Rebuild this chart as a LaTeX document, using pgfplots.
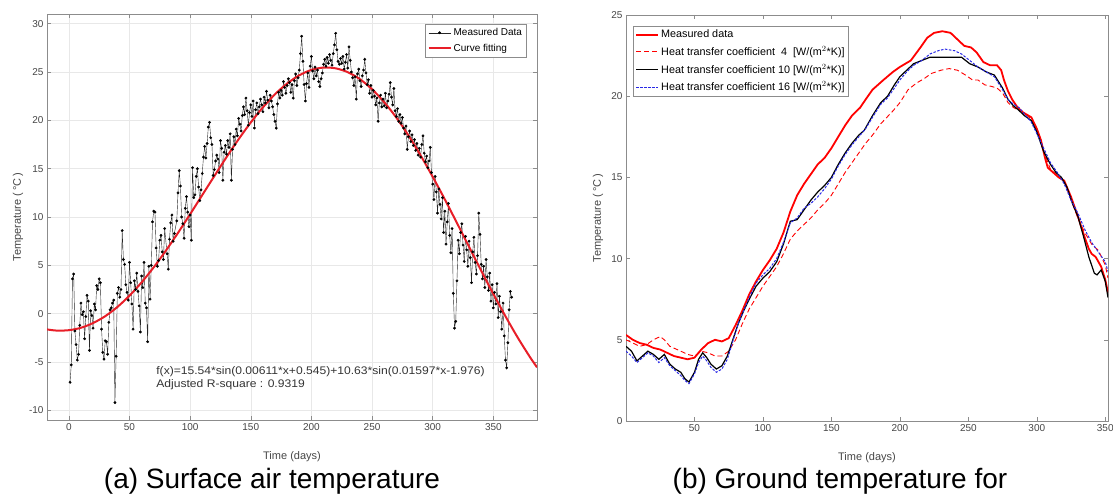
\documentclass[border=0pt]{standalone}
\usepackage{fontspec}
\setmainfont{Liberation Sans}
\newfontfamily\widefont{Liberation Sans}[FakeStretch=1.1]
\usepackage{pgfplots}
\pgfplotsset{compat=1.18}
\definecolor{mred}{RGB}{232,30,40}
\definecolor{axgray}{RGB}{140,140,140}
\definecolor{txtgray}{RGB}{70,70,70}
\definecolor{mblue}{RGB}{40,40,230}
\pgfplotsset{
  mlab/.style={
    scale only axis,
    axis line style={axgray, line width=0.6pt},
    tick style={axgray, line width=0.5pt},
    major tick length=4pt,
    tick align=inside,
    ticklabel style={font=\fontsize{10}{12}\selectfont, text=txtgray},
    /pgf/number format/assume math mode=true,
    label style={font=\fontsize{11}{13}\selectfont, text=txtgray},
    legend style={font=\fontsize{10}{12}\selectfont, draw=axgray, fill=white,
                  inner xsep=2pt, inner ysep=2pt, row sep=3pt},
    legend cell align=left,
    legend image code/.code={\draw[mark repeat=2,mark phase=2,##1]
      plot coordinates {(0pt,0pt) (11pt,0pt) (22pt,0pt)};},
  },
}
\begin{document}
\begin{tikzpicture}
\path[use as bounding box] (0,0) rectangle (1113pt,499pt);

% ---------------- (a) surface air temperature ----------------
\begin{axis}[
  mlab,
  at={(47pt,79pt)}, anchor=south west,
  width=490pt, height=406pt,
  xmin=-18, xmax=386, ymin=-11, ymax=31,
  xtick={0,50,...,350}, ytick={-10,-5,...,30},
  grid=major, grid style={gray!18, line width=0.5pt},
  xlabel={Time (days)}, ylabel={Temperature (\,°C\,)},
  xlabel style={at={(axis description cs:0.5,-0.068)}, anchor=north},
  ylabel style={at={(axis description cs:-0.059,0.5)}, anchor=center},
  legend style={at={(axis description cs:0.978,0.975)}, anchor=north east},
]
\addplot[black!85, line width=0.4pt, mark=*, mark size=1.2pt,
         mark options={fill=black, draw=black}] coordinates {
(1,-7.1) (2,-5.3) (3,3.6) (4,4.1) (5,-1.8) (6,-3.2) (7,-4.8) (8,-4.2) (9,-1.2) (10,1.1)
(11,-0.1) (12,0.2) (13,-2.6) (14,-0.3) (15,1.9) (16,1.3) (17,-3.8) (18,0.3) (19,-0.2) (20,-1.5)
(21,1.0) (22,0.4) (23,2.9) (24,2.5) (25,3.6) (26,3.2) (27,-1.6) (28,-4.0) (29,-4.7) (30,-2.8)
(31,-2.9) (32,-4.2) (33,-0.9) (34,0.4) (35,0.6) (36,1.1) (37,1.4) (38,-9.2) (39,-4.4) (40,2.1)
(41,2.7) (42,1.7) (43,2.5) (44,8.6) (45,5.6) (46,5.1) (47,3.0) (48,2.2) (49,1.4) (50,5.3)
(51,3.2) (52,1.0) (53,-1.6) (54,3.4) (55,2.5) (56,4.2) (57,2.3) (58,0.8) (59,-1.9) (60,3.9)
(61,2.7) (62,5.3) (63,1.1) (64,0.6) (65,-2.9) (66,4.9) (67,1.5) (68,5.0) (69,9.5) (70,10.6)
(71,10.5) (72,6.8) (73,4.9) (74,5.5) (75,7.6) (76,8.1) (77,6.4) (78,5.6) (79,8.8) (81,6.2)
(82,4.6) (83,7.7) (84,9.4) (85,10.2) (86,7.5) (87,8.3) (89,9.6) (90,12.5) (91,14.8) (92,13.2)
(93,10.0) (94,9.3) (95,7.8) (96,10.9) (97,12.1) (98,10.5) (99,9.0) (100,10.2) (101,7.6) (102,15.1)
(103,12.0) (104,12.3) (105,14.2) (106,15.0) (107,13.1) (108,11.7) (109,12.8) (110,14.5) (111,16.2) (112,17.3)
(113,16.1) (114,17.6) (115,19.3) (116,19.8) (117,18.2) (118,17.5) (119,14.3) (120,14.9) (121,15.8) (122,16.4)
(123,16.0) (124,14.6) (125,17.9) (126,17.1) (127,13.8) (128,16.7) (129,17.4) (130,16.5) (131,17.9) (132,17.2)
(133,18.6) (134,13.8) (135,17.0) (136,18.3) (137,17.5) (138,19.1) (139,18.4) (140,20.2) (141,19.6) (142,18.9)
(143,20.5) (144,21.4) (145,20.6) (146,22.3) (147,21.0) (148,19.5) (149,20.8) (150,21.6) (151,20.4) (152,22.0)
(153,19.2) (154,21.1) (155,21.8) (156,20.7) (157,21.4) (158,22.2) (159,21.6) (160,20.9) (161,22.4) (162,21.8)
(163,23.0) (164,22.1) (165,21.3) (166,22.6) (167,22.0) (168,21.4) (169,20.6) (170,19.9) (171,19.2) (172,21.7)
(173,22.9) (174,22.3) (175,23.1) (176,22.6) (177,24.0) (178,23.4) (179,22.8) (180,23.6) (181,24.3) (182,23.9)
(183,22.9) (184,23.7) (185,22.3) (186,24.1) (187,24.8) (188,23.6) (189,24.4) (190,25.2) (191,26.9) (192,28.7)
(193,26.1) (194,23.7) (195,22.0) (196,23.8) (197,24.9) (198,23.4) (199,25.6) (200,26.6) (201,25.1) (202,24.3)
(203,25.5) (204,24.6) (205,25.2) (206,24.0) (207,23.5) (208,24.3) (209,24.9) (210,25.8) (211,26.3) (212,25.6)
(213,26.5) (214,25.9) (215,26.8) (216,26.2) (217,25.7) (218,26.9) (219,27.8) (220,29.0) (221,27.3) (222,26.1)
(223,25.8) (224,26.4) (225,25.9) (226,26.6) (227,25.3) (228,26.0) (229,26.8) (230,25.4) (231,27.6) (232,26.2)
(233,25.0) (234,24.4) (235,23.6) (236,24.5) (237,22.2) (238,24.8) (239,25.3) (240,24.1) (241,23.5) (242,24.6)
(243,25.2) (244,26.3) (245,24.9) (246,23.7) (247,24.2) (248,22.8) (249,23.6) (250,22.4) (251,23.1) (252,22.5)
(253,21.6) (254,22.3) (255,19.9) (256,21.8) (257,22.6) (258,21.4) (259,22.2) (260,21.5) (261,22.8) (262,21.3)
(263,22.0) (264,22.7) (265,23.9) (266,22.4) (267,21.6) (268,23.3) (269,21.0) (270,20.4) (271,21.2) (272,19.9)
(273,20.6) (274,19.7) (275,20.3) (276,19.2) (277,18.6) (278,19.4) (279,17.0) (280,18.3) (281,18.9) (282,17.8)
(283,18.5) (284,17.4) (285,18.0) (286,16.9) (287,17.6) (288,16.4) (289,17.1) (290,16.2) (291,17.5) (292,18.4)
(293,16.6) (294,15.7) (295,16.3) (296,15.1) (297,15.8) (298,17.2) (299,14.6) (300,13.4) (301,11.8) (302,14.2)
(303,12.6) (304,10.4) (305,12.9) (306,11.3) (307,9.8) (308,12.0) (309,8.4) (310,10.6) (311,7.2) (312,9.5)
(313,11.4) (314,8.1) (315,6.3) (316,8.8) (317,2.1) (318,-1.5) (319,-0.8) (320,3.4) (321,7.6) (322,6.2)
(323,8.4) (324,9.3) (325,7.1) (326,5.4) (327,8.0) (328,6.6) (329,4.9) (330,7.5) (331,5.8) (332,3.2)
(333,6.4) (334,7.9) (335,5.3) (336,4.1) (337,6.0) (338,10.4) (339,8.2) (340,5.1) (341,3.6) (342,4.9)
(343,2.7) (344,5.6) (345,3.8) (346,2.4) (347,4.2) (348,1.3) (349,3.0) (350,0.6) (351,2.2) (352,1.0)
(353,3.1) (354,-0.4) (355,1.8) (356,0.2) (357,-1.6) (358,1.1) (359,-2.3) (360,-4.8) (361,-5.6) (362,-3.0)
(363,0.4) (364,2.3) (365,1.7)
};
\addlegendentry{Measured Data}
\addplot[mred, line width=2pt, smooth] coordinates {
(-18,-1.63) (-10,-1.75) (0,-1.71) (10,-1.46) (20,-0.97) (30,-0.26) (40,0.69)
(50,1.86) (60,3.24) (70,4.80) (80,6.52) (90,8.36) (100,10.29) (110,12.27)
(120,14.24) (130,16.19) (140,18.05) (150,19.78) (160,21.34) (170,22.70)
(180,23.81) (190,24.66) (200,25.22) (210,25.46) (220,25.38) (230,24.98)
(240,24.26) (250,23.22) (260,21.88) (270,20.29) (280,18.44) (290,16.38)
(300,14.16) (310,11.82) (320,9.38) (330,6.91) (340,4.44) (350,2.04)
(360,-0.27) (370,-2.45) (380,-4.45) (386,-5.55)
};
\addlegendentry{Curve fitting}
\node[anchor=base west, font=\widefont\fontsize{11}{13}\selectfont, text=black!80, inner sep=0pt]
  at (axis cs:72,-6.3) {f(x)=15.54*sin(0.00611*x+0.545)+10.63*sin(0.01597*x-1.976)};
\node[anchor=base west, font=\widefont\fontsize{11}{13}\selectfont, text=black!80, inner sep=0pt]
  at (axis cs:72,-7.6) {Adjusted R-square : 0.9319};
\end{axis}

% ---------------- (b) ground temperature ----------------
\begin{axis}[
  mlab,
  at={(626pt,78pt)}, anchor=south west,
  width=482pt, height=406pt,
  xmin=0, xmax=352, ymin=0, ymax=25,
  xtick={50,100,...,350}, ytick={0,5,...,25},
  xlabel={Time (days)}, ylabel={Temperature (\,°C\,)},
  xlabel style={at={(axis description cs:0.5,-0.068)}, anchor=north},
  ylabel style={at={(axis description cs:-0.058,0.5)}, anchor=center},
  legend style={at={(axis description cs:0.015,0.973)}, anchor=north west,
                font=\fontsize{10.8}{12.5}\selectfont, row sep=3pt},
]
\addplot[red, line width=1.8pt] coordinates {
(0,5.3) (5,5.0) (10,4.8) (15,4.7) (20,4.5) (25,4.4) (30,4.2) (35,4.0) (40,3.9) (45,3.8)
(50,3.9) (55,4.4) (60,4.8) (65,5.0) (70,4.9) (75,5.1) (80,5.9) (85,6.8) (90,7.8) (95,8.6)
(100,9.3) (105,9.9) (110,10.6) (115,11.6) (120,12.9) (125,13.9) (130,14.6) (135,15.2)
(140,15.8) (145,16.2) (150,16.8) (155,17.5) (160,18.2) (165,18.8) (171,19.3) (175,19.8)
(180,20.4) (188,21.0) (195,21.5) (200,21.8) (208,22.2) (215,23.0) (220,23.6) (225,23.9)
(231,24.0) (237,23.9) (242,23.5) (247,23.1) (252,23.0) (256,22.7) (261,22.1) (266,21.9)
(271,21.9) (274,21.6) (276,21.0) (279,20.3) (282,19.8) (286,19.3) (290,19.0) (296,18.7)
(300,18.0) (303,17.3) (306,16.2) (308,15.6) (312,15.3) (316,15.0) (320,14.8) (325,13.8)
(330,12.6) (335,11.3) (338,10.6) (340,10.3) (343,10.1) (347,9.5) (350,8.7) (352,7.9)
};
\addlegendentry{Measured data}
\addplot[red, line width=0.9pt, dash pattern=on 5pt off 3pt] coordinates {
(0,5.0) (5,4.8) (10,4.6) (15,4.7) (20,5.0) (25,5.2) (28,5.0) (32,4.6) (40,4.3) (45,4.1)
(50,4.0) (55,4.3) (60,4.2) (65,4.0) (70,4.0) (75,4.3) (80,5.0) (85,6.0) (90,6.9) (95,7.6)
(100,8.3) (105,8.9) (110,9.5) (115,10.3) (120,11.2) (125,11.7) (130,12.1) (135,12.5)
(140,13.0) (145,13.4) (150,13.9) (155,14.6) (160,15.3) (165,15.9) (170,16.5) (175,17.1)
(180,17.6) (186,18.3) (195,19.1) (200,19.6) (206,20.4) (212,20.8) (218,21.1) (223,21.4)
(230,21.6) (236,21.7) (242,21.6) (248,21.3) (253,21.0) (257,21.0) (262,20.7) (267,20.6)
(271,20.5) (275,20.2) (279,19.6) (283,19.3) (290,19.0) (296,18.6) (300,17.9) (305,16.6)
(310,15.5) (315,15.1) (320,14.8) (325,13.6) (330,12.5) (335,11.6) (340,10.9) (345,10.5)
(350,9.6) (352,8.8)
};
\addlegendentry{Heat transfer coefficient\ \ 4\ \ [W/(m$^2$*K)]}
\addplot[black, line width=1.2pt] coordinates {
(0,4.6) (4,4.3) (8,3.7) (12,4.0) (16,4.3) (20,4.1) (24,3.8) (28,4.1) (32,3.5) (36,3.2)
(40,3.0) (43,2.6) (46,2.4) (50,3.0) (53,3.8) (56,4.2) (59,3.9) (62,3.5) (66,3.2) (70,3.4)
(74,4.0) (78,5.0) (82,6.0) (86,6.8) (90,7.5) (95,8.3) (100,8.8) (105,9.2) (110,9.8)
(115,10.9) (120,12.3) (125,12.4) (130,13.0) (135,13.6) (140,14.1) (145,14.5) (150,15.0)
(155,15.8) (160,16.5) (165,17.1) (170,17.6) (174,17.9) (180,18.8) (186,19.6) (191,20.0)
(196,20.7) (200,21.2) (205,21.6) (210,22.0) (216,22.2) (222,22.4) (228,22.4) (236,22.4)
(245,22.4) (251,22.0) (257,21.8) (263,21.5) (269,21.3) (275,20.5) (279,19.8) (283,19.4)
(286,19.2) (291,18.8) (296,18.5) (300,17.8) (305,16.6) (310,15.8) (314,15.3) (318,15.0)
(322,14.4) (326,13.4) (330,12.6) (334,11.4) (338,10.1) (342,9.1) (344,9.0) (347,9.3)
(350,8.6) (352,7.6)
};
\addlegendentry{Heat transfer coefficient 10 [W/(m$^2$*K)]}
\addplot[mblue, line width=1.0pt, dash pattern=on 2.5pt off 1.5pt] coordinates {
(0,4.3) (4,4.0) (8,3.6) (12,3.9) (16,4.2) (20,4.0) (24,3.6) (28,3.9) (32,3.4) (36,3.1)
(40,2.8) (43,2.5) (46,2.3) (50,2.9) (53,3.6) (56,4.0) (59,3.7) (62,3.3) (66,3.0) (70,3.2)
(74,3.8) (78,4.9) (82,6.0) (86,6.8) (90,7.6) (95,8.5) (100,9.0) (105,9.4) (110,10.0)
(115,11.0) (120,12.2) (125,12.5) (130,13.1) (135,13.4) (140,13.8) (145,14.3) (150,14.9)
(155,15.7) (160,16.4) (165,17.0) (170,17.5) (175,18.0) (180,18.7) (186,19.5) (191,19.9)
(196,20.5) (200,21.0) (205,21.5) (210,21.9) (216,22.2) (222,22.6) (228,22.8) (233,22.9)
(240,22.8) (245,22.6) (251,22.2) (257,21.8) (263,21.5) (269,21.2) (275,20.4) (279,19.8)
(283,19.5) (287,19.3) (291,18.9) (296,18.4) (300,17.7) (305,16.8) (310,15.9) (315,15.3)
(320,14.6) (325,13.6) (330,12.8) (335,11.8) (340,11.0) (345,10.4) (350,9.8) (352,9.2)
};
\addlegendentry{Heat transfer coefficient 16 [W/(m$^2$*K)]}
\end{axis}

% ---------------- captions ----------------
\node[anchor=base, font=\fontsize{28}{32}\selectfont] at (272pt,11pt)
  {(a) Surface air temperature};
\node[anchor=base, font=\fontsize{28}{32}\selectfont] at (840pt,11pt)
  {(b) Ground temperature for};
\end{tikzpicture}
\end{document}
